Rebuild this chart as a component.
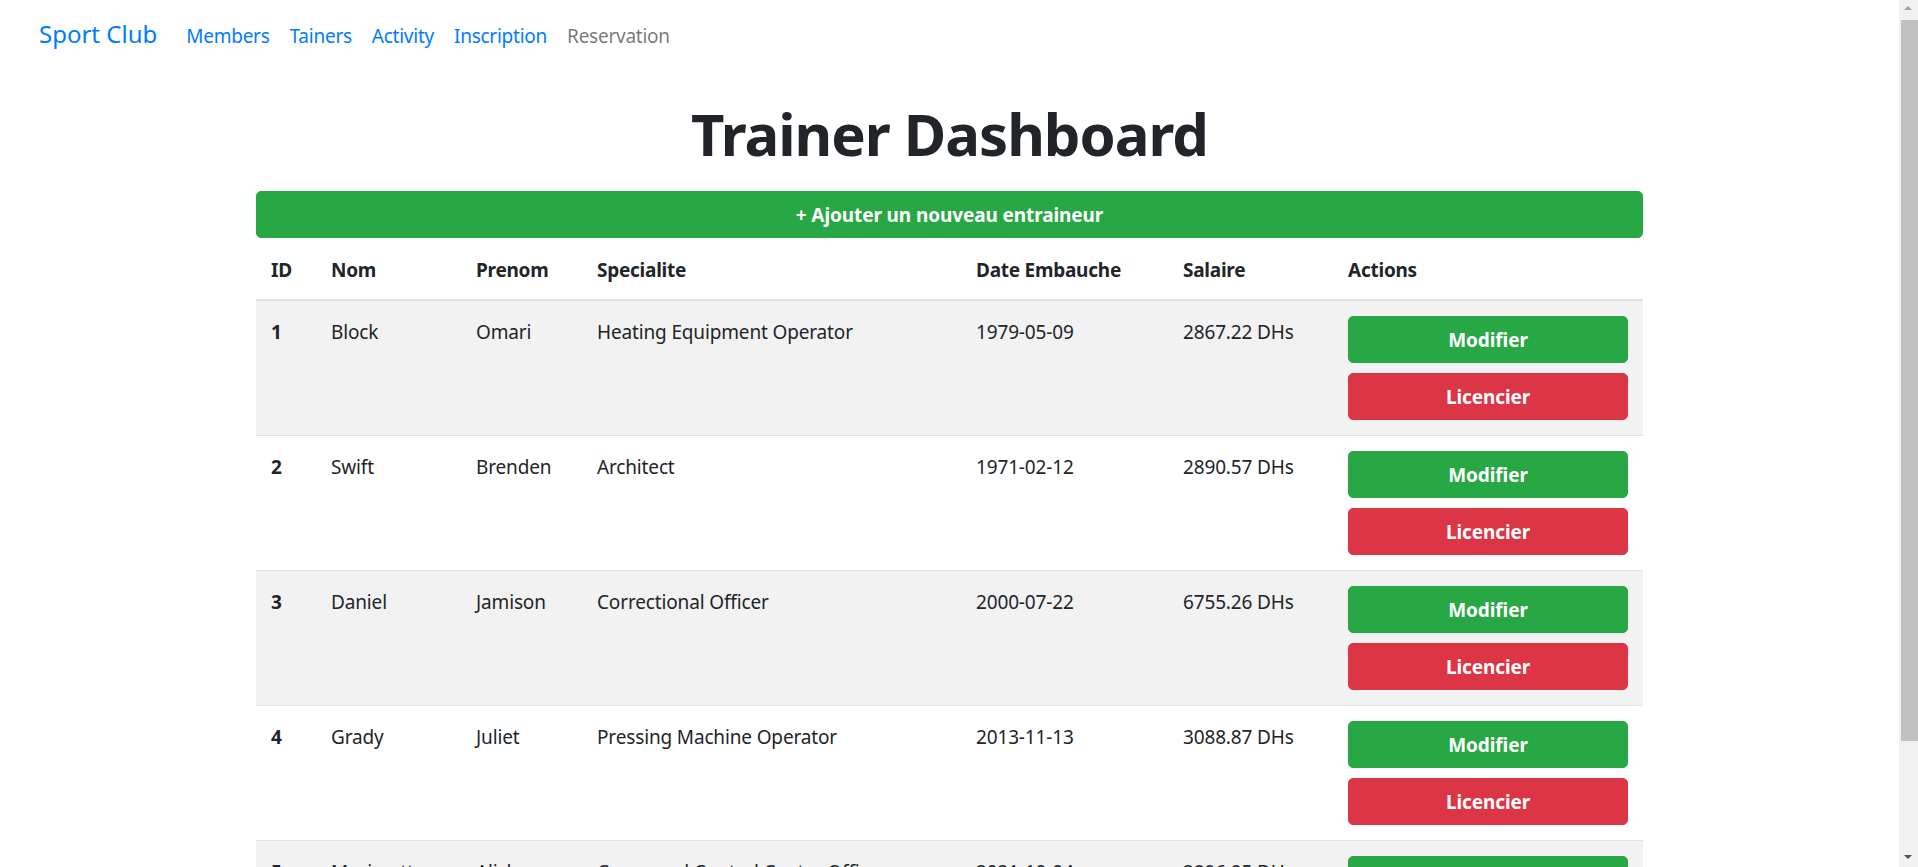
import React from 'react';

// Page content (this reference is an HTML table page, not a chart)
const brand = 'Sport Club';
const navLinks = ['Members', 'Tainers', 'Activity', 'Inscription', 'Reservation'];
const pageTitle = 'Trainer Dashboard';
const addLabel = '+ Ajouter un nouveau entraineur';
const headers = ['ID', 'Nom', 'Prenom', 'Specialite', 'Date Embauche', 'Salaire', 'Actions'];

const ids = [1, 2, 3, 4, 5];
const noms = ['Block', 'Swift', 'Daniel', 'Grady', 'Morissette'];
const prenoms = ['Omari', 'Brenden', 'Jamison', 'Juliet', 'Alisha'];
const specialites = [
    'Heating Equipment Operator',
    'Architect',
    'Correctional Officer',
    'Pressing Machine Operator',
    'Command Control Center Officer'
];
const dates = ['1979-05-09', '1971-02-12', '2000-07-22', '2013-11-13', '2021-10-04'];
const salaires = [2867.22, 2890.57, 6755.26, 3088.87, 2896.05];

const FONT = '"Segoe UI", "Noto Sans", sans-serif';
const colWidths = [60, 145, 121, 379, 207, 165, 310];

const btn = (bg: string, mb: number): React.CSSProperties => ({
    display: 'block',
    width: '100%',
    boxSizing: 'border-box',
    height: 47,
    lineHeight: '30px',
    padding: '7.5px 15px',
    border: `1px solid ${bg}`,
    borderRadius: 5,
    background: bg,
    color: '#fff',
    fontFamily: FONT,
    fontSize: 19,
    letterSpacing: -0.1,
    fontWeight: 700,
    textAlign: 'center',
    marginBottom: mb
});

const App: React.FC = () => {
    return (
        <div style={{
            position: 'fixed', left: 0, top: 0, width: 1918, height: 867,
            overflow: 'hidden', background: '#fff', fontFamily: FONT, color: '#212529'
        }}>
            {/* Navbar */}
            <div style={{
                position: 'absolute', left: 39, top: 15, display: 'flex', alignItems: 'baseline'
            }}>
                <span style={{ fontSize: 24, lineHeight: '37.5px', color: '#007bff', marginRight: 19 }}>{brand}</span>
                {navLinks.map((l, i) => (
                    <span key={l} style={{
                        fontSize: 19, letterSpacing: -0.25, lineHeight: '30px', padding: '0 10px',
                        color: i === navLinks.length - 1 ? 'rgba(0,0,0,0.55)' : '#007bff'
                    }}>{l}</span>
                ))}
            </div>

            {/* Title */}
            <div style={{
                position: 'absolute', left: 0, width: 1899, top: 97, textAlign: 'center',
                fontSize: 58, letterSpacing: -1, fontWeight: 700, lineHeight: '74px'
            }}>{pageTitle}</div>

            {/* Content */}
            <div style={{ position: 'absolute', left: 256, top: 191, width: 1387 }}>
                <div style={{ ...btn('#28a745', 0) }}>{addLabel}</div>
                <table style={{
                    width: 1387, marginTop: 1, borderCollapse: 'collapse', tableLayout: 'fixed',
                    fontSize: 19, letterSpacing: -0.15, lineHeight: '30px'
                }}>
                    <colgroup>
                        {colWidths.map((w, i) => <col key={i} style={{ width: w }} />)}
                    </colgroup>
                    <thead>
                        <tr>
                            {headers.map(h => (
                                <th key={h} style={{
                                    textAlign: 'left', fontWeight: 700, padding: '16px 15px 14px', verticalAlign: 'bottom',
                                    borderBottom: '2px solid #dee2e6', letterSpacing: -0.25
                                }}>{h}</th>
                            ))}
                        </tr>
                    </thead>
                    <tbody>
                        {ids.map((id, i) => {
                            const td: React.CSSProperties = {
                                padding: '16px 15px 14px', verticalAlign: 'top', borderTop: '1px solid #dee2e6',
                                whiteSpace: 'nowrap', overflow: 'hidden'
                            };
                            return (
                                <tr key={id} style={{ background: i % 2 === 0 ? '#f2f2f2' : '#fff' }}>
                                    <td style={{ ...td, fontWeight: 700 }}>{id}</td>
                                    <td style={td}>{noms[i]}</td>
                                    <td style={td}>{prenoms[i]}</td>
                                    <td style={td}>{specialites[i]}</td>
                                    <td style={td}>{dates[i]}</td>
                                    <td style={td}>{salaires[i].toFixed(2)} DHs</td>
                                    <td style={{ ...td, padding: 15 }}>
                                        <div style={btn('#28a745', 10)}>Modifier</div>
                                        <div style={btn('#dc3545', 0)}>Licencier</div>
                                    </td>
                                </tr>
                            );
                        })}
                    </tbody>
                </table>
            </div>

            {/* Scrollbar */}
            <div style={{ position: 'absolute', left: 1899, top: 0, width: 19, height: 867, background: '#f1f1f1' }}>
                <div style={{ position: 'absolute', left: 2, top: 20, width: 17, height: 721, background: '#c1c1c1' }} />
                <div style={{
                    position: 'absolute', left: 5, top: 6, width: 0, height: 0,
                    borderLeft: '4.5px solid transparent', borderRight: '4.5px solid transparent',
                    borderBottom: '4px solid #a3a3a3'
                }} />
                <div style={{
                    position: 'absolute', left: 5, top: 855, width: 0, height: 0,
                    borderLeft: '4.5px solid transparent', borderRight: '4.5px solid transparent',
                    borderTop: '4px solid #505050'
                }} />
            </div>
        </div>
    );
};

export default App;
